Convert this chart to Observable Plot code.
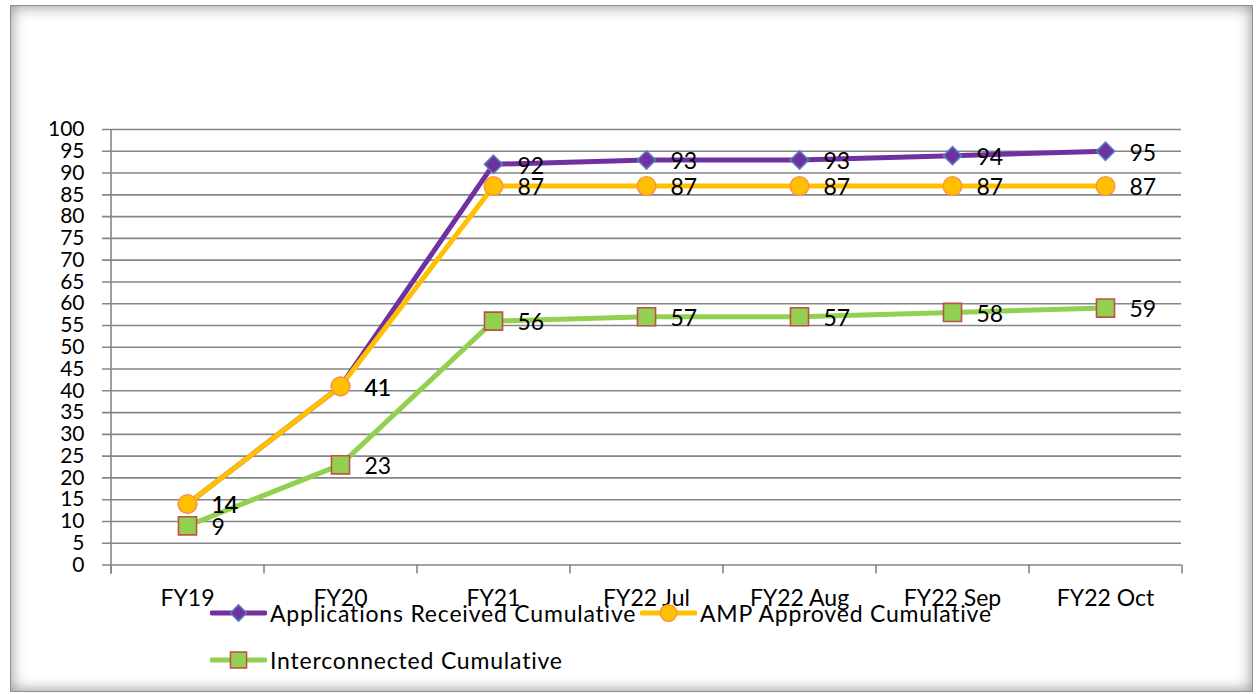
<!DOCTYPE html>
<html>
<head>
<meta charset="utf-8">
<script src="https://cdn.jsdelivr.net/npm/d3@7"></script>
<script src="https://cdn.jsdelivr.net/npm/@observablehq/plot@0.6"></script>
<style>
  html, body { margin: 0; padding: 0; background: #fff; }
  #page { position: relative; width: 1257px; height: 694px; overflow: hidden; font-family: Lato, "Open Sans", sans-serif; }
  #frame {
    position: absolute; left: 10px; top: 5px; width: 1243px; height: 687px;
    border: 1px solid #8f8f8f; box-sizing: border-box;
    box-shadow: inset 0 0 15px rgba(0,0,0,0.45);
  }
  #chart { position: absolute; left: 0; top: 0; }
  .legend-item { position: absolute; display: flex; align-items: center; font-size: 23px; letter-spacing: 0.8px; color: #000; white-space: nowrap; transform: translateY(-50%); }
  .legend-item svg { display: block; margin-right: 3px; }
</style>
</head>
<body>
<div id="page">
  <div id="frame"></div>
  <div id="chart"></div>
</div>
<script>
// Cumulative counts by fiscal period
const categories = ["FY19", "FY20", "FY21", "FY22 Jul", "FY22 Aug", "FY22 Sep", "FY22 Oct"];
const applicationsReceived = [14, 41, 92, 93, 93, 94, 95];
const ampApproved = [14, 41, 87, 87, 87, 87, 87];
const interconnected = [9, 23, 56, 57, 57, 58, 59];
const seriesNames = ["Applications Received Cumulative", "AMP Approved Cumulative", "Interconnected Cumulative"];
const yTicks = d3.range(0, 101, 5);

// Series styling (line colour, marker symbol, marker fill/outline)
const styles = [
  {line: "#7030A0", symbol: "diamond2", r: 8.2, fill: "#7030A0", stroke: "#4F81BD"},
  {line: "#FFC000", symbol: "circle", r: 9.3, fill: "#FFC000", stroke: "#F79646"},
  {line: "#92D050", symbol: "square", r: 10.2, fill: "#92D050", stroke: "#C0504D"}
];

const seriesValues = [applicationsReceived, ampApproved, interconnected];
const rows = seriesValues.flatMap((vals, s) =>
  vals.map((v, i) => ({series: seriesNames[s], s, category: categories[i], value: v}))
);

const W = 1257, H = 694;
const margin = {top: 129, right: 76, bottom: 129.5, left: 110};
const step = (W - margin.left - margin.right) / categories.length;
const gridColor = "#868686";

// Category boundary ticks below the x axis
const boundaries = categories.map((c, i) => ({category: c, dx: -step / 2}))
  .concat([{category: categories[categories.length - 1], dx: step / 2}]);

const seriesMarks = styles.flatMap((st, s) => {
  const data = rows.filter(d => d.s === s);
  return [
    Plot.line(data, {x: "category", y: "value", stroke: st.line, strokeWidth: 5, strokeLinejoin: "round", strokeLinecap: "round"}),
    Plot.dot(data, {x: "category", y: "value", symbol: st.symbol, r: st.r, fill: st.fill, stroke: st.stroke, strokeWidth: 1.6})
  ];
});

const chart = Plot.plot({
  width: W,
  height: H,
  marginTop: margin.top,
  marginRight: margin.right,
  marginBottom: margin.bottom,
  marginLeft: margin.left,
  style: {fontFamily: "Lato, 'Open Sans', sans-serif", fontSize: "21px", color: "#000", background: "transparent", overflow: "visible"},
  x: {type: "point", domain: categories, padding: 0.5, label: null},
  y: {domain: [0, 100], label: null},
  marks: [
    Plot.gridY(yTicks, {stroke: gridColor, strokeOpacity: 1, strokeWidth: 1.6, insetLeft: -8}),
    Plot.ruleX([categories[0]], {dx: -step / 2, y1: 100, y2: 0, insetBottom: -9, stroke: gridColor, strokeWidth: 1.6}),
    ...boundaries.map(b => Plot.ruleX([b.category], {dx: b.dx, y1: 0, y2: 0, insetBottom: -9, stroke: gridColor, strokeWidth: 1.6})),
    Plot.axisY(yTicks, {tickSize: 0, tickPadding: 26, fontSize: 21, fill: "#000"}),
    Plot.axisX({tickSize: 0, tickPadding: 25, fontSize: 23, fill: "#000"}),
    ...seriesMarks,
    Plot.text(rows, {x: "category", y: "value", text: d => String(d.value), textAnchor: "start", dx: 24, dy: 2, fontSize: 23, fill: "#000"})
  ]
});
document.getElementById("chart").appendChild(chart);

// Legend below the plot
function swatch(st) {
  const ns = "http://www.w3.org/2000/svg";
  const svg = document.createElementNS(ns, "svg");
  svg.setAttribute("width", 57); svg.setAttribute("height", 22);
  const line = document.createElementNS(ns, "line");
  line.setAttribute("x1", 2); line.setAttribute("x2", 55); line.setAttribute("y1", 11); line.setAttribute("y2", 11);
  line.setAttribute("stroke", st.line); line.setAttribute("stroke-width", 5); line.setAttribute("stroke-linecap", "round");
  svg.appendChild(line);
  const sym = {diamond2: d3.symbolDiamond2, circle: d3.symbolCircle, square: d3.symbolSquare}[st.symbol];
  const path = document.createElementNS(ns, "path");
  path.setAttribute("d", d3.symbol(sym, Math.PI * st.r * st.r * 0.8)());
  path.setAttribute("transform", "translate(28.5,11)");
  path.setAttribute("fill", st.fill); path.setAttribute("stroke", st.stroke); path.setAttribute("stroke-width", 1.5);
  svg.appendChild(path);
  return svg;
}
const legendPos = [{left: 210, top: 613}, {left: 640, top: 613}, {left: 210, top: 660}];
seriesNames.forEach((name, i) => {
  const item = document.createElement("div");
  item.className = "legend-item";
  item.style.left = legendPos[i].left + "px";
  item.style.top = legendPos[i].top + "px";
  item.appendChild(swatch(styles[i]));
  const label = document.createElement("span");
  label.textContent = name;
  item.appendChild(label);
  document.getElementById("page").appendChild(item);
});
</script>
</body>
</html>
